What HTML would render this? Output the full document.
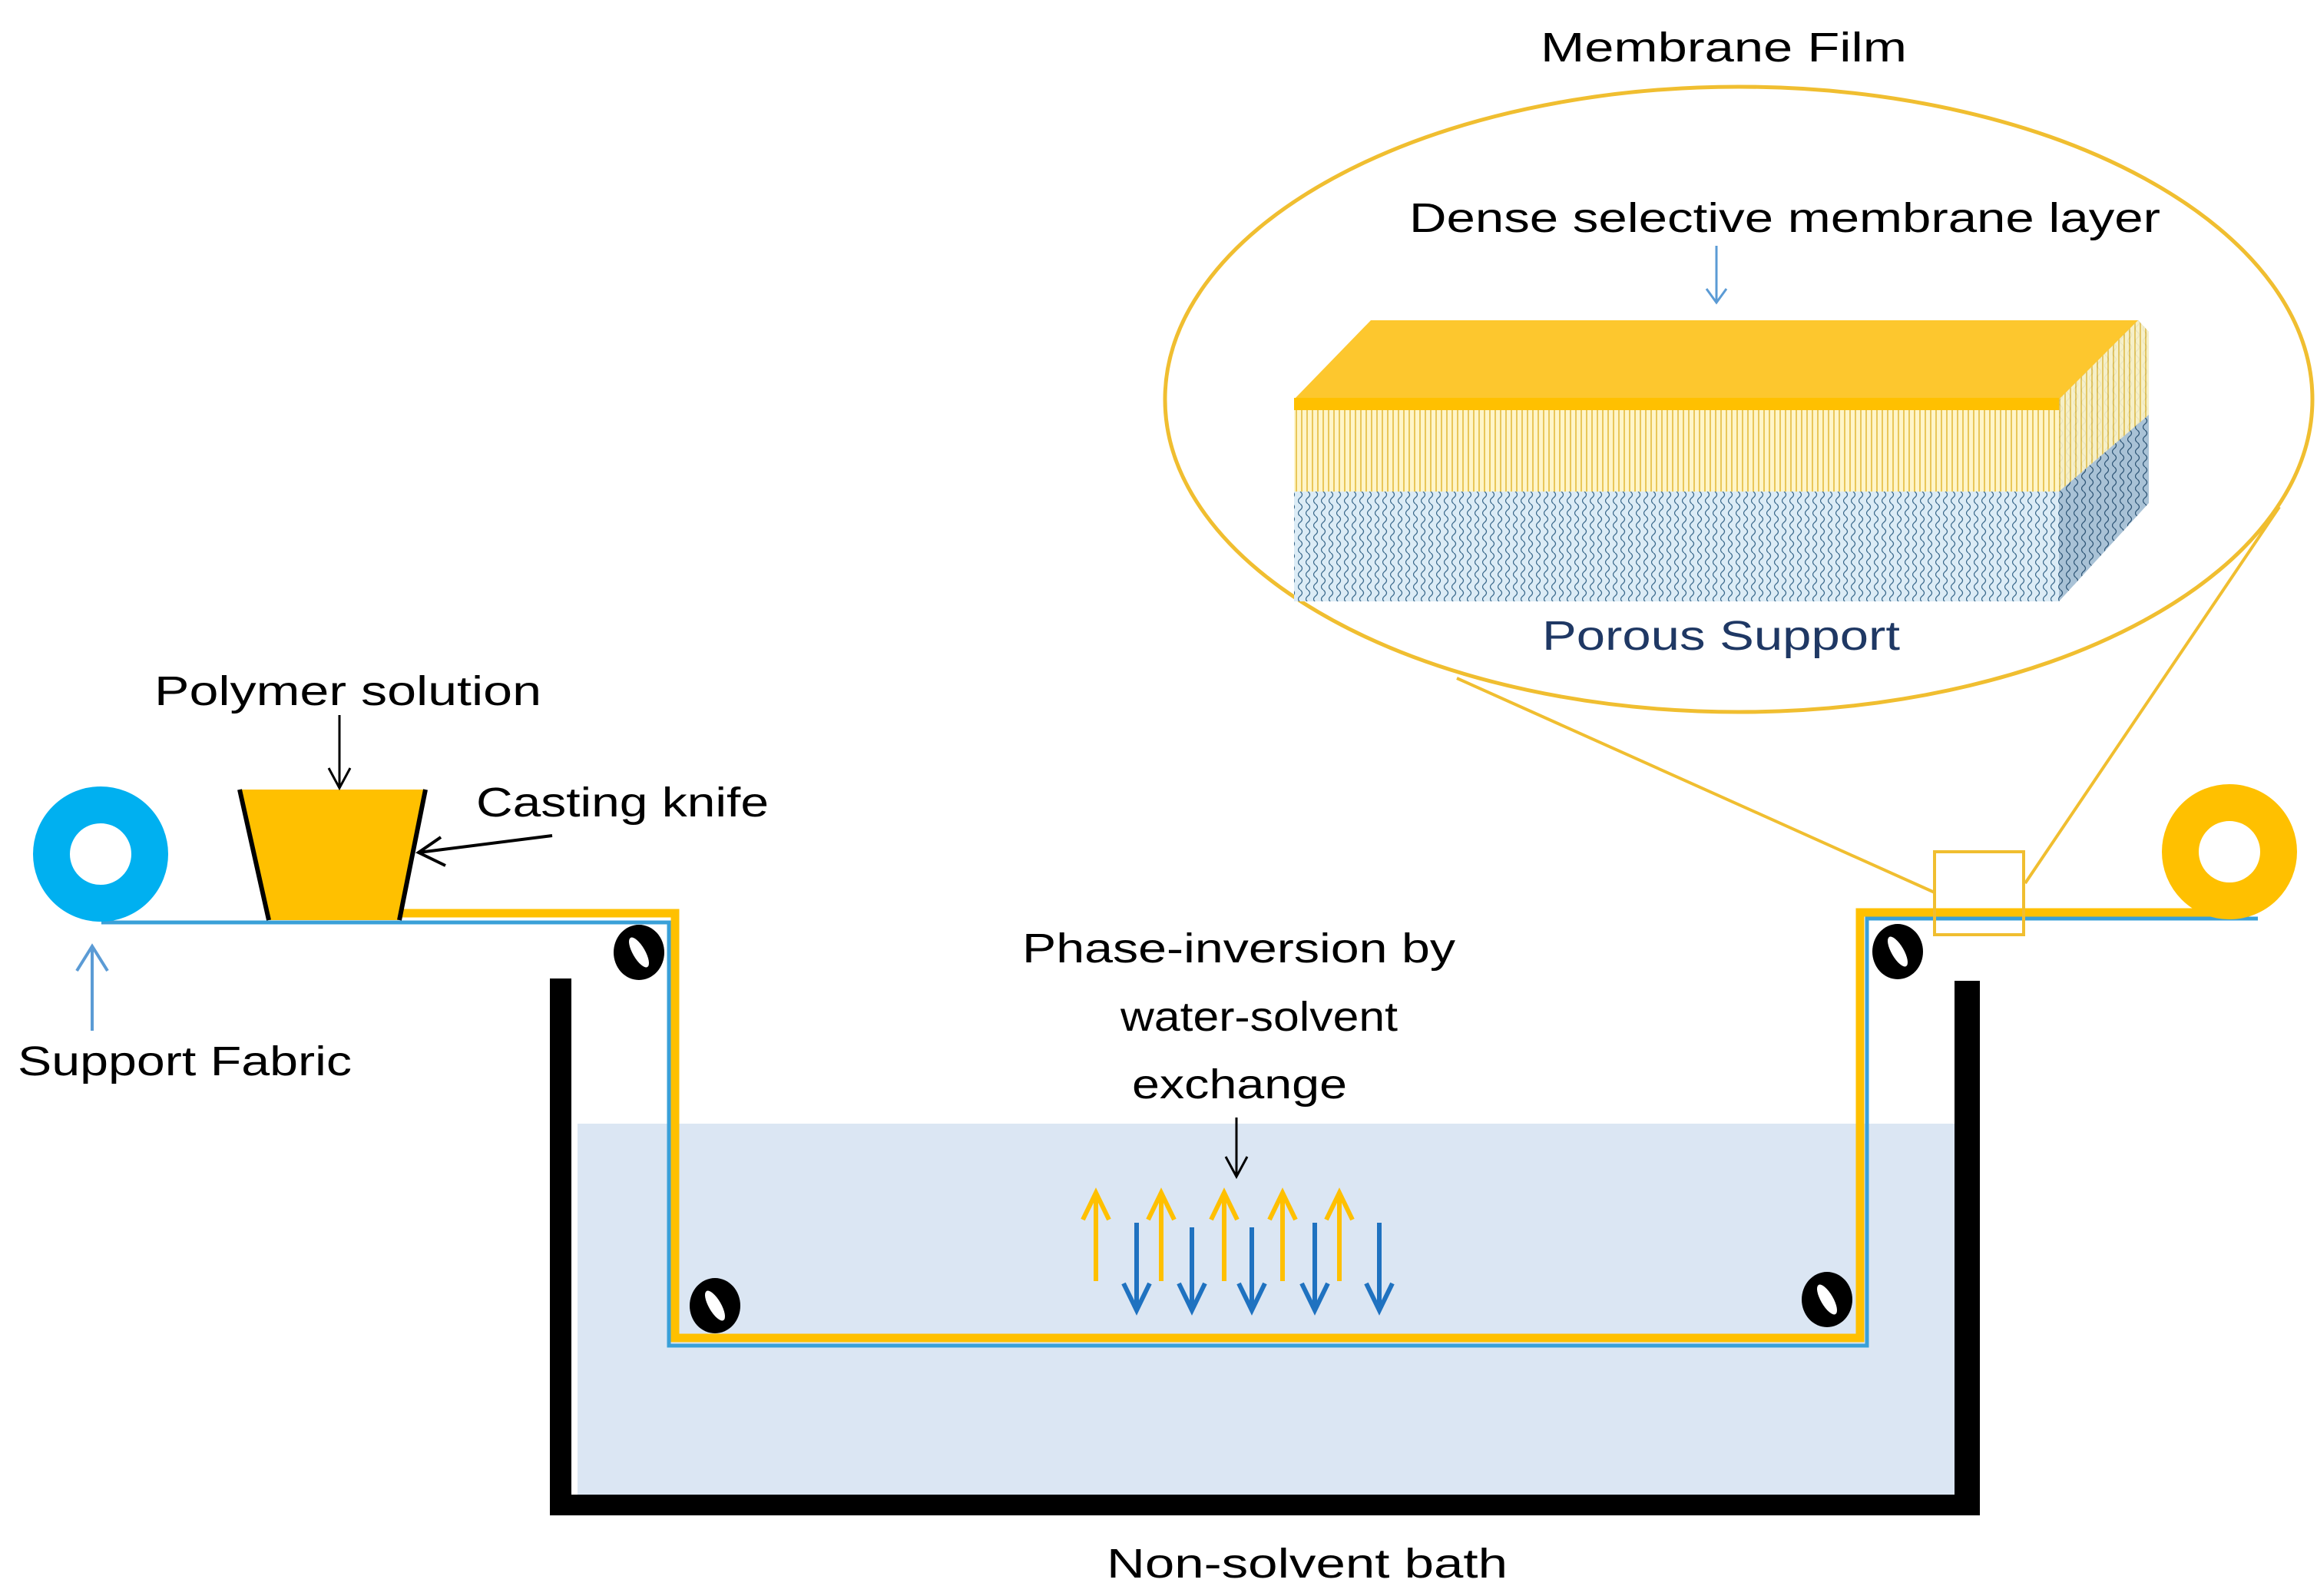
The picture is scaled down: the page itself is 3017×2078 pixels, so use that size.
<!DOCTYPE html>
<html><head><meta charset="utf-8"><style>html,body{margin:0;padding:0;background:#fff}svg{display:block}</style></head>
<body>
<svg width="3017" height="2078" viewBox="0 0 3017 2078" xmlns="http://www.w3.org/2000/svg" font-family="'Liberation Sans', sans-serif">
<defs>
<pattern id="stripes" width="7" height="20" patternUnits="userSpaceOnUse">
<rect width="7" height="20" fill="#fff5c8"/><rect x="0" width="2" height="20" fill="#e9c75a"/>
</pattern>
<pattern id="waves" width="10" height="16" patternUnits="userSpaceOnUse">
<rect width="10" height="16" fill="#dcecf6"/>
<path d="M3 0 Q8 4 3 8 Q-2 12 3 16" fill="none" stroke="#3c6a8c" stroke-width="1.3"/>
</pattern>
<pattern id="waves2" width="10" height="16" patternUnits="userSpaceOnUse">
<rect width="10" height="16" fill="#a9c2d6"/>
<path d="M3 0 Q8 4 3 8 Q-2 12 3 16" fill="none" stroke="#2f5676" stroke-width="1.3"/>
</pattern>
</defs>

<rect x="752" y="1463" width="1793" height="485" fill="#dbe6f3"/>
<rect x="716" y="1274" width="28" height="699" fill="#000"/>
<rect x="2545" y="1277" width="33" height="696" fill="#000"/>
<rect x="716" y="1946" width="1862" height="27" fill="#000"/>

<polyline points="132,1201 871,1201 871,1752 2431,1752 2431,1196 2940,1196" fill="none" stroke="#3aa0d8" stroke-width="5"/>
<polyline points="520,1189 879,1189 879,1742 2422,1742 2422,1188 2905,1188" fill="none" stroke="#ffc000" stroke-width="11"/>

<circle cx="131" cy="1112" r="64" fill="none" stroke="#00b0f0" stroke-width="48"/>
<circle cx="2903" cy="1109" r="64" fill="none" stroke="#ffc000" stroke-width="48"/>

<polygon points="312,1028 554,1028 520,1198 350,1198" fill="#ffc000"/>
<line x1="312" y1="1028" x2="350" y2="1198" stroke="#000" stroke-width="6"/>
<line x1="554" y1="1028" x2="520" y2="1198" stroke="#000" stroke-width="6"/>

<g transform="translate(832,1240)"><ellipse rx="33" ry="36" fill="#000"/><ellipse rx="8" ry="22" fill="#fff" transform="rotate(-30)"/></g>
<g transform="translate(931,1700)"><ellipse rx="33" ry="36" fill="#000"/><ellipse rx="8" ry="22" fill="#fff" transform="rotate(-30)"/></g>
<g transform="translate(2471,1239)"><ellipse rx="33" ry="36" fill="#000"/><ellipse rx="8" ry="22" fill="#fff" transform="rotate(-30)"/></g>
<g transform="translate(2379,1692)"><ellipse rx="33" ry="36" fill="#000"/><ellipse rx="8" ry="22" fill="#fff" transform="rotate(-30)"/></g>

<rect x="2519" y="1109" width="116" height="108" fill="none" stroke="#f0be30" stroke-width="4"/>
<line x1="1897" y1="883" x2="2519" y2="1162" stroke="#f0be30" stroke-width="4"/>
<line x1="2968" y1="660" x2="2637" y2="1150" stroke="#f0be30" stroke-width="4"/>
<ellipse cx="2264" cy="520" rx="747" ry="407" fill="none" stroke="#f0be30" stroke-width="5"/>

<polygon points="2681,520 2784,417 2798,432 2798,655 2681,783" fill="url(#waves2)"/>
<polygon points="2681,520 2784,417 2798,432 2798,540 2681,640" fill="url(#stripes)" opacity="0.9"/>
<rect x="1685" y="533" width="996" height="107" fill="url(#stripes)"/>
<rect x="1685" y="640" width="996" height="143" fill="url(#waves)"/>
<polygon points="1685,520 1785,417 2784,417 2681,520" fill="#fdc72e"/>
<rect x="1685" y="518" width="996" height="16" fill="#ffc000"/>

<line x1="2235" y1="320" x2="2235" y2="392" stroke="#5b9bd5" stroke-width="3"/>
<path d="M2222 376 L2235 394 L2248 376" fill="none" stroke="#5b9bd5" stroke-width="3"/>

<line x1="120" y1="1342" x2="120" y2="1232" stroke="#5b9bd5" stroke-width="4"/>
<path d="M100 1264 L120 1232 L140 1264" fill="none" stroke="#5b9bd5" stroke-width="4"/>

<line x1="442" y1="931" x2="442" y2="1025" stroke="#000" stroke-width="3"/>
<path d="M428 1000 L442 1026 L456 1000" fill="none" stroke="#000" stroke-width="3"/>
<line x1="719" y1="1088" x2="545" y2="1110" stroke="#000" stroke-width="4"/>
<path d="M574 1090 L545 1110 L580 1127" fill="none" stroke="#000" stroke-width="4"/>
<line x1="1610" y1="1455" x2="1610" y2="1530" stroke="#000" stroke-width="3"/>
<path d="M1596 1506 L1610 1532 L1624 1506" fill="none" stroke="#000" stroke-width="3"/>

<g stroke="#ffc000" stroke-width="6" fill="none">
<path d="M1427 1668 V1553 M1410 1588 L1427 1553 L1444 1588"/>
<path d="M1512 1668 V1553 M1495 1588 L1512 1553 L1529 1588"/>
<path d="M1594 1668 V1553 M1577 1588 L1594 1553 L1611 1588"/>
<path d="M1670 1668 V1553 M1653 1588 L1670 1553 L1687 1588"/>
<path d="M1744 1668 V1553 M1727 1588 L1744 1553 L1761 1588"/>
</g>
<g stroke="#1f72c0" stroke-width="6" fill="none">
<path d="M1480 1592 V1706 M1463 1671 L1480 1706 L1497 1671"/>
<path d="M1552 1598 V1706 M1535 1671 L1552 1706 L1569 1671"/>
<path d="M1630 1598 V1706 M1613 1671 L1630 1706 L1647 1671"/>
<path d="M1712 1592 V1706 M1695 1671 L1712 1706 L1729 1671"/>
<path d="M1796 1592 V1706 M1779 1671 L1796 1706 L1813 1671"/>
</g>

<g font-size="54" fill="#000">
<text x="2006" y="80" textLength="477" lengthAdjust="spacingAndGlyphs">Membrane Film</text>
<text x="1835" y="302" textLength="978" lengthAdjust="spacingAndGlyphs">Dense selective membrane layer</text>
<text x="2008" y="846" textLength="466" lengthAdjust="spacingAndGlyphs" fill="#1f3864">Porous Support</text>
<text x="201" y="918" textLength="504" lengthAdjust="spacingAndGlyphs">Polymer solution</text>
<text x="620" y="1063" textLength="381" lengthAdjust="spacingAndGlyphs">Casting knife</text>
<text x="23" y="1400" textLength="435" lengthAdjust="spacingAndGlyphs">Support Fabric</text>
<text x="1331" y="1253" textLength="564" lengthAdjust="spacingAndGlyphs">Phase-inversion by</text>
<text x="1459" y="1342" textLength="361" lengthAdjust="spacingAndGlyphs">water-solvent</text>
<text x="1474" y="1430" textLength="280" lengthAdjust="spacingAndGlyphs">exchange</text>
<text x="1441" y="2054" textLength="522" lengthAdjust="spacingAndGlyphs">Non-solvent bath</text>
</g>
</svg>
</body></html>
